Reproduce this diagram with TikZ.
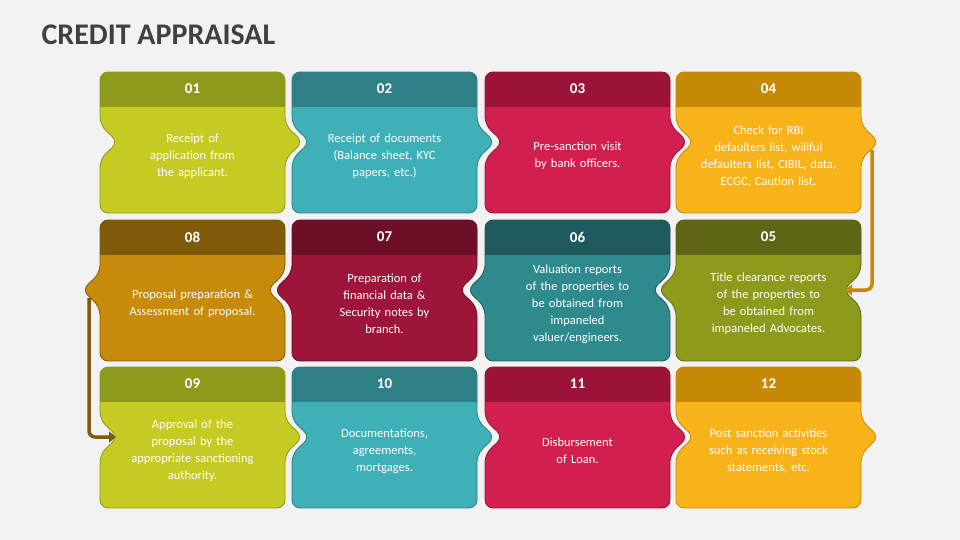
\documentclass[tikz,border=0pt]{standalone}
\usepackage{fontspec}
\setmainfont{Carlito}
\usetikzlibrary{arrows.meta}
\definecolor{bg}{HTML}{F2F2F2}
\definecolor{titlegray}{HTML}{404040}
\definecolor{limeH}{HTML}{8E9A1B}\definecolor{limeB}{HTML}{C5CB22}
\definecolor{tealH}{HTML}{2F7F86}\definecolor{tealB}{HTML}{40B0B8}
\definecolor{redH}{HTML}{9B1438}\definecolor{redB}{HTML}{D11F4F}
\definecolor{goldH}{HTML}{C78A06}\definecolor{goldB}{HTML}{F8B21A}
\definecolor{brownH}{HTML}{7F5A08}\definecolor{brownB}{HTML}{C78A0A}
\definecolor{wineH}{HTML}{6E0F28}\definecolor{wineB}{HTML}{9D1538}
\definecolor{petrolH}{HTML}{1F5A5E}\definecolor{petrolB}{HTML}{2F8A8E}
\definecolor{oliveH}{HTML}{5E6515}\definecolor{oliveB}{HTML}{8E9A1B}
\tikzset{
  numtxt/.style={text=white,font=\bfseries\fontsize{15}{17}\selectfont},
  bodytxt/.style={text=white,align=center,text width=150pt,font=\fontsize{12.5}{17}\selectfont},
  flow/.style={line width=3.5pt,rounded corners=6pt,-{Triangle[length=7pt,width=11pt]}}
}
% #1 name, #2 x, #3 y, #4 direction, #5 header, #6 body, #7 number, #8 text
\newcommand{\cardbox}[8]{%
  \begin{scope}
    \clip[rounded corners=8pt] (#2,#3) -- ++(185,0) -- ++(0,53) -- ++({18*(#4)},17) -- ++({-18*(#4)},17)
      -- ++(0,54) -- ++(-185,0) -- ++(0,-54) -- ++({18*(#4)},-17) -- ++({-18*(#4)},-17) -- cycle;
    \fill[#6] (#2-20,#3) rectangle ++(230,141);
    \fill[#5] (#2-20,#3) rectangle ++(230,35);
  \end{scope}
  \draw[#5,line width=0.8pt,rounded corners=8pt] (#2,#3) -- ++(185,0) -- ++(0,53) -- ++({18*(#4)},17) -- ++({-18*(#4)},17)
      -- ++(0,54) -- ++(-185,0) -- ++(0,-54) -- ++({18*(#4)},-17) -- ++({-18*(#4)},-17) -- cycle;
  \node[numtxt] (#1n) at (#2+92.5,#3+17) {#7};
  \node[bodytxt] (#1) at (#2+92.5,#3+84) {#8};
  \coordinate (#1tr) at ({#2+185+18*(#4)},#3+70);
  \coordinate (#1tl) at ({#2+18*(#4)},#3+70);
}
\begin{document}
\begin{tikzpicture}[x=1pt,y=-1pt]
  \fill[bg] (0,0) rectangle (960,540);
  \node[anchor=west,text=titlegray,font=\bfseries\fontsize{30}{34}\selectfont] (title) at (38,35) {CREDIT APPRAISAL};

  \cardbox{c01}{100}{72}{1}{limeH}{limeB}{01}{Receipt of\\application from\\the applicant.}
  \cardbox{c02}{292}{72}{1}{tealH}{tealB}{02}{Receipt of documents\\(Balance sheet, KYC\\papers, etc.)}
  \cardbox{c03}{485}{72}{1}{redH}{redB}{03}{Pre-sanction visit\\by bank officers.}
  \cardbox{c04}{676}{72}{1}{goldH}{goldB}{04}{Check for RBI\\defaulters list, willful\\defaulters list, CIBIL, data,\\ECGC, Caution list.}

  \cardbox{c08}{100}{220}{-1}{brownH}{brownB}{08}{Proposal preparation \&\\Assessment of proposal.}
  \cardbox{c07}{292}{220}{-1}{wineH}{wineB}{07}{Preparation of\\financial data \&\\Security notes by\\branch.}
  \cardbox{c06}{485}{220}{-1}{petrolH}{petrolB}{06}{Valuation reports\\of the properties to\\be obtained from\\impaneled\\valuer/engineers.}
  \cardbox{c05}{676}{220}{-1}{oliveH}{oliveB}{05}{Title clearance reports\\of the properties to\\be obtained from\\impaneled Advocates.}

  \cardbox{c09}{100}{367}{1}{limeH}{limeB}{09}{Approval of the\\proposal by the\\appropriate sanctioning\\authority.}
  \cardbox{c10}{292}{367}{1}{tealH}{tealB}{10}{Documentations,\\agreements,\\mortgages.}
  \cardbox{c11}{485}{367}{1}{redH}{redB}{11}{Disbursement\\of Loan.}
  \cardbox{c12}{676}{367}{1}{goldH}{goldB}{12}{Post sanction activities\\such as receiving stock\\statements, etc.}

  % links between the rows
  \draw[flow,goldH] ([xshift=-7pt,yshift=-8pt]c04tr) -- ([xshift=-7pt]c04tr |- c05tr) -- ([xshift=2pt]c05tr);
  \draw[flow,brownH] ([xshift=7pt,yshift=-8pt]c08tl) -- ([xshift=7pt]c08tl |- c09tl) -- ([xshift=-2pt]c09tl);
\end{tikzpicture}
\end{document}
